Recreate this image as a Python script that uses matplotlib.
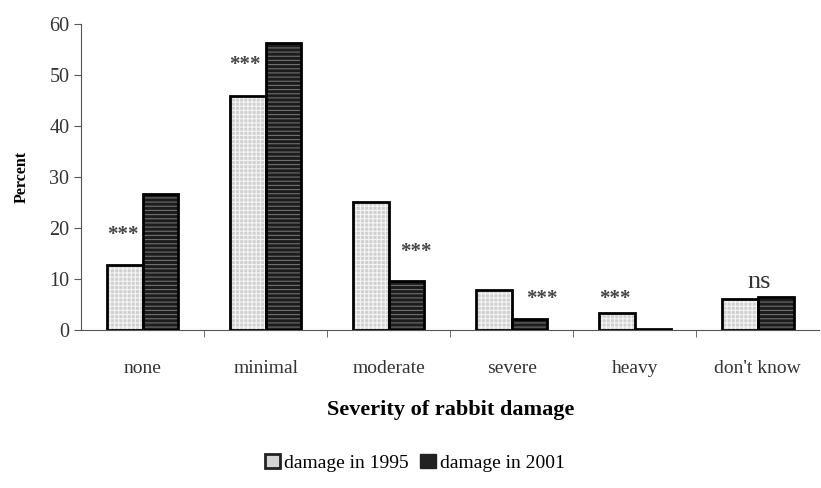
import matplotlib.pyplot as plt
import numpy as np
from matplotlib.patches import Patch

plt.rcParams['font.family'] = ['Liberation Serif', 'DejaVu Serif']
plt.rcParams['hatch.linewidth'] = 0.8

# Data
categories = ['none', 'minimal', 'moderate', 'severe', 'heavy', "don't know"]
damage_1995 = [12.7, 45.9, 25.0, 7.8, 3.3, 6.0]
damage_2001 = [26.6, 56.2, 9.6, 2.1, 0.2, 6.5]
# significance label, where it sits over the group (0 = 1995 bar, 1 = 2001 bar), height
signif = [('***', -0.05, 16.6), ('***', -0.1, 50.0), ('***', 1.25, 13.3),
          ('***', 1.35, 4.1), ('***', -0.05, 4.1), ('ns', 0.55, 7.2)]

fig = plt.figure(figsize=(8.21, 4.88), dpi=100)
ax = fig.add_axes([0.099, 0.324, 0.899, 0.627])

x = np.arange(len(categories))
w = 0.29

# fills with hatching, then black outlines on top
ax.bar(x - w / 2, damage_1995, w, color='#d0d0d0', edgecolor='#f4f4f4',
       hatch='++++', linewidth=0, zorder=2)
ax.bar(x + w / 2, damage_2001, w, color='#1c1c1c', edgecolor='#707070',
       hatch='----', linewidth=0, zorder=2)
ax.bar(x - w / 2, damage_1995, w, fill=False, edgecolor='black', linewidth=2, zorder=3)
ax.bar(x + w / 2, damage_2001, w, fill=False, edgecolor='black', linewidth=2, zorder=3)

for i, (txt, pos, h) in enumerate(signif):
    xx = x[i] + (pos - 0.5) * w
    if txt == 'ns':
        ax.text(xx, h, txt, ha='center', va='bottom', fontsize=19, color='#333333')
    else:
        ax.text(xx, h, txt, ha='center', va='bottom', fontsize=15, color='#444444',
                fontweight='bold')

ax.set_xlim(-0.5, len(categories) - 0.5)
ax.set_ylim(0, 60)
ax.set_yticks(range(0, 61, 10))
ax.set_xticks(x)
ax.set_xticklabels(categories, fontsize=14, color='#333333')
ax.set_xticks(np.arange(0.5, len(categories) - 0.5, 1), minor=True)
ax.tick_params(axis='x', which='major', length=0, pad=22)
ax.tick_params(axis='x', which='minor', length=5, direction='out', color='#555555')
ax.tick_params(axis='y', length=5, direction='out', labelsize=14.5, color='#555555', labelcolor='#333333')
for s in ['top', 'right']:
    ax.spines[s].set_visible(False)
for s in ['left', 'bottom']:
    ax.spines[s].set_color('#555555')

ax.set_ylabel('Percent', fontsize=11.5, fontweight='bold', labelpad=14)
ax.set_xlabel('Severity of rabbit damage', fontsize=16, fontweight='bold', labelpad=16)

handles = [Patch(facecolor='#d4d4d4', edgecolor='#222222', linewidth=2),
           Patch(facecolor='#222222', edgecolor='#222222', linewidth=1)]
fig.legend(handles, ['damage in 1995', 'damage in 2001'], loc='center',
           bbox_to_anchor=(0.505, 0.052), ncol=2, frameon=False, fontsize=14,
           handlelength=0.8, handleheight=0.8, handletextpad=0.2, columnspacing=0.6)

fig.savefig('out.png', dpi=100)
